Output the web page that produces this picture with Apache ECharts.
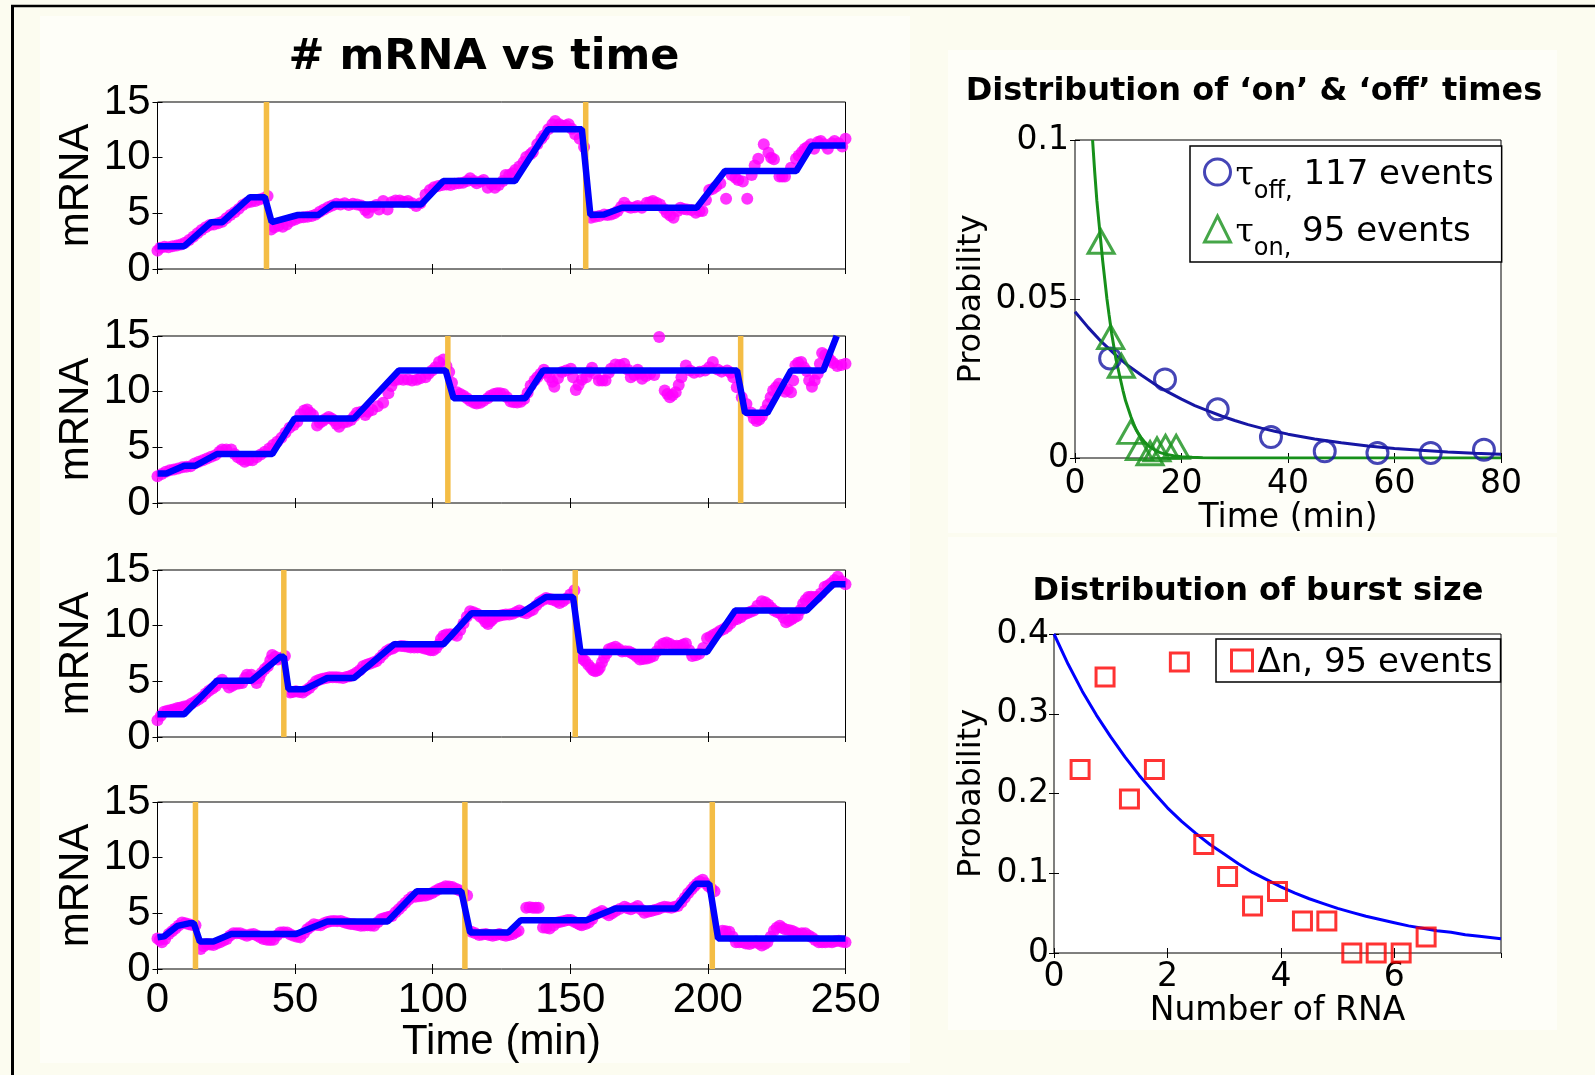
<!DOCTYPE html>
<html><head><meta charset="utf-8">
<script src="https://cdn.jsdelivr.net/npm/echarts/dist/echarts.min.js"></script>
<style>html,body{margin:0;padding:0;background:#fcfcf0;}#c{width:1595px;height:1075px;}</style>
</head><body><div id="c"></div>
<script>
// ---------------- data ----------------
const TIME_TICKS = [0, 50, 100, 150, 200, 250];
const MRNA_TICKS = [0, 5, 10, 15];
const DIST_TIME_TICKS = [0, 20, 40, 60, 80];
const DIST_PROB_TICKS = [0, 0.05, 0.1];
const RNA_TICKS = [0, 2, 4, 6];
const RNA_MAX = 7.88;
const BURST_PROB_TICKS = [0, 0.1, 0.2, 0.3, 0.4];

// panel 1
const p1Switch = [39.6, 155.6];
const p1Fit = [[0,2.05],[9.7,2.05],[19.5,4.2],[23.5,4.2],[33.6,6.45],[39,6.45],[41.5,4.2],[51,4.85],[58.4,4.85],[63.8,5.8],[95.8,5.8],[103.9,7.9],[129.9,7.9],[142,12.55],[154.2,12.55],[157.3,4.85],[162.3,4.9],[168.8,5.5],[195.9,5.5],[206.2,8.8],[232.1,8.8],[237.8,11.1],[250,11.1]];
const p1Dots = [[0,1.65],[1,1.9],[2.5,2.0],[4,1.95],[5.5,2.05],[7,2.1],[8.5,2.2],[10,2.35],[11.5,2.6],[13,2.9],[14.5,3.2],[16,3.5],[17.5,3.75],[19,3.95],[20.5,4.0],[22,4.1],[23.5,4.25],[25,4.55],[26.5,4.85],[28,5.1],[29.5,5.4],[31,5.75],[32.5,5.95],[34,6.05],[35.5,6.1],[37,6.25],[38.5,6.35],[40,6.55],[41.3,3.55],[42.5,3.75],[44,3.9],[45.5,3.8],[47,4.0],[48.5,4.3],[50,4.45],[51.5,4.6],[53,4.65],[54.5,4.7],[56,4.75],[57.5,4.9],[59,5.15],[60.5,5.35],[62,5.55],[63.5,5.7],[65,5.85],[66.5,5.8],[68,5.9],[69.5,5.75],[71,5.85],[72.5,5.8],[74,5.7],[75.5,5.3],[76.5,5.05],[78,5.6],[79.5,5.75],[80.5,5.35],[82,6.1],[83.6,5.35],[85,6.0],[86.5,6.15],[88,6.15],[89.5,6.05],[91,6.1],[92.5,5.9],[94,5.65],[95.5,5.9],[97.4,6.7],[99,7.1],[100.5,7.35],[102,7.45],[103.5,7.55],[105,7.6],[106.5,7.55],[108,7.65],[109.5,7.7],[111,7.75],[112.5,7.9],[113.6,8.15],[115,7.9],[116,7.7],[117.5,7.85],[118.5,8.0],[120,7.3],[121.5,7.6],[122.6,7.3],[124,7.55],[125.5,7.9],[126.5,8.45],[127.8,8.45],[129,8.6],[130,8.9],[131.5,9.2],[133,9.6],[134,10.05],[135.5,10.3],[136.4,10.5],[138,11.2],[139.5,11.7],[140.4,12.0],[142,12.55],[143.5,13.0],[144.5,13.3],[146,13.0],[147,12.85],[148.3,12.9],[149.4,13.0],[150.5,12.6],[151.8,12.1],[153.4,11.7],[155,10.95],[157.5,4.6],[159,4.7],[160.5,4.75],[162.3,4.9],[163.5,4.85],[164.8,4.9],[166,5.0],[167.2,5.2],[168.5,5.6],[169.6,5.95],[171,5.6],[172,5.5],[173.5,5.55],[174.5,5.65],[176,5.5],[177.8,5.95],[179,6.0],[180,6.1],[181.3,5.95],[182.6,5.8],[184,5.4],[185,5.05],[186.3,4.8],[187.5,4.6],[189,5.2],[190,5.5],[191.2,5.4],[192.4,5.35],[194,5.3],[195.6,5.05],[197,5.2],[198,5.2],[199.3,6.2],[200.5,7.1],[201.8,7.2],[203,7.4],[204.5,7.7],[206.6,6.3],[208.6,8.45],[210,8.2],[211,8.0],[212.7,7.85],[214.3,6.3],[215.9,8.45],[217,9.3],[218.3,9.9],[220.3,11.2],[222,10.45],[223,10.0],[224,9.85],[226,8.3],[227,8.3],[228,8.3],[230.2,9.1],[232,9.9],[233,10.2],[234.2,10.5],[235.2,10.8],[236.2,10.95],[237.4,11.2],[238.6,10.8],[240,11.4],[241,11.5],[242.3,11.2],[243.6,10.8],[245,11.3],[246,11.5],[247.5,11.3],[248.8,11.0],[250,11.7]];

// panel 2
const p2Switch = [105.5, 211.9];
const p2Fit = [[0,2.65],[3.2,2.65],[9.7,3.35],[13.8,3.35],[21.6,4.4],[41.7,4.4],[49.8,7.6],[71.4,7.6],[87.7,11.9],[104.7,11.9],[107.6,9.4],[133.6,9.4],[140.1,11.9],[210.6,11.9],[213.5,8.1],[221.6,8.1],[230.2,11.9],[241.9,11.9],[246.8,15]];
const p2Dots = [[0,2.4],[1.5,2.6],[3,2.8],[4.5,2.95],[6,3.0],[7.5,3.1],[9,3.2],[10.5,3.25],[12,3.3],[13.5,3.55],[15,3.7],[16.5,3.85],[18,4.0],[19.5,4.15],[21,4.3],[22.5,4.6],[23.5,4.8],[25,4.8],[26.8,4.8],[28,4.4],[29.2,4.1],[30.5,3.9],[31.7,3.7],[33,3.85],[34.5,3.85],[36,4.1],[37.5,4.35],[39,4.6],[40.6,4.9],[42,5.2],[43.5,5.5],[45,5.85],[46.5,6.3],[48,6.75],[49.5,7.0],[50.8,7.3],[52,7.97],[53.3,8.3],[54.4,8.4],[55.5,8.1],[56.5,7.9],[58,6.97],[59,7.2],[60,7.36],[61,7.55],[62.2,7.73],[63.2,7.6],[64.1,7.4],[65,7.1],[66,6.85],[67.5,7.2],[69,7.3],[70.3,7.45],[71.5,7.8],[72.5,8.1],[74,8.2],[75.5,7.9],[76.5,8.2],[78,8.36],[80,8.7],[82,9.0],[83.9,9.85],[85,10.5],[86,11.0],[87.5,11.1],[89.3,11.06],[91,11.1],[92.5,11.0],[94.2,11.06],[95.5,11.2],[97.4,11.3],[98.5,11.6],[99.8,11.9],[101,12.2],[102.3,12.67],[103.9,12.88],[105,12.3],[106,11.76],[107,10.8],[108.8,9.94],[110,9.8],[111.2,9.64],[112.5,9.4],[113.6,9.18],[115,9.0],[116,8.94],[117.3,9.0],[118.5,9.18],[120,9.4],[121,9.64],[122.3,9.8],[123.4,9.85],[124.5,9.85],[125.8,9.8],[127,9.5],[128.3,9.12],[129.5,9.05],[130.7,9.03],[132,9.1],[133.2,9.33],[134.5,9.9],[135.6,10.55],[137,11.0],[138,11.3],[139.2,11.6],[140.4,11.97],[141.5,11.7],[142.5,11.3],[143.5,10.9],[144.2,10.45],[145.5,11.2],[147,11.76],[148.5,11.9],[150.2,12.06],[151,11.3],[152,10.15],[153,10.6],[154.2,11.06],[155.8,11.3],[157,11.8],[157.9,12.15],[159,11.6],[160.4,11.0],[161.6,11.0],[162.8,11.0],[164,11.7],[164.8,12.06],[166.4,12.45],[168,12.4],[169.6,12.5],[170.8,12.0],[172,11.3],[173.3,11.5],[174.5,11.97],[175.3,11.6],[176.1,11.15],[177.5,11.4],[179,11.6],[180.5,11.5],[182.3,14.9],[184.3,10.1],[185.3,9.8],[186.2,9.5],[187.2,9.7],[188.3,9.94],[189.4,10.6],[190.4,11.3],[192,12.36],[193.5,11.9],[195,11.7],[197,11.8],[199,11.9],[200.5,12.2],[201.8,12.67],[203.5,12.0],[205,11.8],[207,11.9],[208.3,11.7],[209.2,11.3],[210.5,10.4],[212.3,9.5],[214,8.9],[215.6,8.12],[216.7,7.6],[217.7,7.36],[218.7,7.5],[219.6,7.8],[220.8,8.3],[221.8,8.88],[222.8,9.5],[223.7,10.1],[224.8,10.4],[225.8,10.7],[227,10.3],[228,10.0],[229,10.2],[230.2,9.94],[231,11.0],[231.8,12.36],[232.8,12.6],[233.9,12.67],[234.9,12.2],[235.9,11.85],[236.8,11.0],[237.8,10.45],[238.8,11.0],[239.9,11.6],[240.7,12.5],[241.5,13.48],[242.6,13.3],[243.7,13.12],[244.6,12.8],[245.6,12.58],[247,12.3],[248.5,12.4],[250,12.5]];

// panel 3
const p3Switch = [45.9, 151.8];
const p3Fit = [[0,2.05],[9.7,2.05],[21.6,5.05],[34.1,5.05],[44.6,7.2],[45.9,7.2],[47.6,4.3],[53.6,4.3],[61.7,5.3],[71.4,5.3],[86,8.33],[103.9,8.33],[114.1,11.12],[132,11.12],[141.2,12.58],[151,12.58],[153.7,7.64],[199.7,7.64],[209.9,11.36],[235.9,11.36],[245.6,13.73],[250,13.73]];
const p3Dots = [[0,1.5],[1.2,1.9],[2.4,2.27],[3.6,2.35],[4.9,2.42],[6,2.5],[7.3,2.6],[8.5,2.65],[9.7,2.73],[11,2.8],[12.4,3.0],[13.8,3.2],[15,3.4],[16.2,3.6],[17.5,3.9],[18.7,4.15],[20,4.35],[21.1,4.55],[22.3,4.9],[23.5,5.15],[24.8,4.8],[26,4.45],[27.2,4.6],[28.4,4.76],[29.6,4.8],[30.8,4.85],[31.8,5.3],[32.5,5.6],[34.1,5.6],[35,5.2],[36,4.85],[37,5.3],[37.8,5.76],[39,6.1],[40.1,6.36],[41,6.9],[41.7,7.36],[42.8,7.2],[43.8,6.97],[45,7.1],[46.3,7.27],[48.2,4.0],[49.2,4.05],[50.3,4.1],[51.5,4.05],[52.8,4.0],[54,4.2],[55.2,4.4],[56.4,4.7],[57.6,5.0],[58.8,5.15],[60,5.24],[61.3,5.3],[62.5,5.36],[63.7,5.36],[64.9,5.36],[66,5.35],[67.4,5.3],[68.6,5.4],[69.8,5.45],[71,5.6],[72.2,5.76],[73.5,6.0],[74.7,6.36],[76,6.5],[77.1,6.58],[78.3,6.7],[79.5,6.8],[80.8,7.1],[82,7.4],[83.2,7.7],[84.4,7.88],[85.5,7.95],[86.5,8.1],[88.5,8.18],[89.7,8.15],[90.9,8.1],[92,8.05],[93.3,8.03],[94.5,8.05],[95.8,8.03],[97,7.95],[98.2,7.88],[99.2,7.8],[100.2,7.79],[101.3,8.0],[102.3,8.33],[103,8.8],[103.9,9.1],[105,9.2],[106.3,9.24],[107.5,9.2],[108.8,9.1],[110,9.6],[111.2,10.2],[112.4,10.8],[113.6,11.3],[114.8,11.2],[116.1,11.06],[117.3,10.8],[118.5,10.6],[119.3,10.3],[120.1,10.15],[121,10.4],[121.8,10.6],[123,10.8],[124.2,10.9],[125.4,10.95],[126.6,11.0],[127.8,11.0],[129.1,11.06],[130.3,11.2],[131.5,11.36],[132.7,11.2],[134,11.12],[135.2,11.3],[136.4,11.42],[137.6,11.8],[138.8,12.12],[140,12.3],[141.2,12.48],[142.5,12.4],[143.7,12.33],[145,12.2],[146.1,12.03],[147.3,12.2],[148.5,12.42],[150,12.8],[151.5,13.18],[153.7,7.27],[154.5,7.0],[155.4,6.82],[156.5,6.5],[157.5,6.21],[158.3,6.0],[159.1,5.9],[160,6.0],[160.7,6.21],[161.5,6.7],[162.3,7.12],[163.2,7.5],[164,7.88],[165.2,8.0],[166.4,8.1],[167.6,7.9],[168.8,7.67],[170,7.7],[171.3,7.67],[172.3,7.55],[173.2,7.42],[174.2,7.2],[175.3,6.97],[176.5,7.0],[177.8,7.06],[179,7.15],[180.2,7.27],[181.4,7.7],[182.6,8.18],[183.8,8.4],[185,8.48],[186.2,8.35],[187.5,8.18],[188.7,8.2],[189.9,8.18],[191,8.3],[192,8.4],[193.2,7.8],[194.3,7.27],[195.6,7.35],[196.9,7.48],[198.3,8.0],[199.7,8.88],[200.9,9.0],[202.1,9.18],[203.3,9.35],[204.5,9.55],[205.8,9.7],[207,9.9],[208.2,10.2],[209.4,10.5],[210.6,10.6],[211.9,10.76],[213.1,11.0],[214.3,11.12],[215.5,11.25],[216.7,11.36],[218,11.8],[219.6,12.2],[220.8,12.1],[221.9,11.9],[223,11.6],[224,11.36],[225.3,11.2],[226.5,11.06],[227.5,10.7],[228.4,10.3],[229.5,10.45],[230.5,10.6],[231.5,10.75],[232.6,10.9],[233.6,11.4],[234.6,11.97],[235.5,12.3],[236.5,12.58],[237.5,12.6],[238.6,12.58],[239.8,12.6],[241,12.9],[242.4,13.48],[243.6,13.6],[244.8,13.8],[246,14.1],[247.2,14.4],[248.6,14.0],[250,13.73]];

// panel 4
const p4Switch = [13.8, 111.7, 201.6];
const p4Fit = [[0,2.84],[2.4,2.93],[7.3,3.88],[11.4,4.1],[13.2,4.1],[15.4,2.46],[20.3,2.46],[26.8,3.14],[50.3,3.14],[61.7,4.26],[83.6,4.26],[94.2,6.98],[110.4,6.98],[113.6,3.28],[127.4,3.28],[132,4.38],[155.8,4.38],[166.4,5.44],[188.3,5.44],[195.6,7.66],[200.5,7.66],[203.7,2.75],[250,2.75]];
const p4Dots = [[0,2.75],[0.8,2.6],[1.6,2.4],[2.8,2.7],[4.1,3.14],[5.3,3.4],[6.5,3.64],[7.7,3.9],[8.9,4.17],[10.1,4.1],[11.4,4.02],[12.6,3.95],[13.8,3.93],[15.7,1.8],[16.8,2.05],[17.9,2.25],[19.1,2.2],[20.3,2.16],[21.5,2.3],[22.7,2.4],[24,2.55],[25.2,2.69],[26.4,3.0],[27.6,3.22],[28.8,3.2],[30,3.22],[31.3,3.1],[32.5,2.99],[33.7,3.1],[34.9,3.14],[36.1,3.0],[37.3,2.84],[38.5,2.7],[39.8,2.63],[41,2.6],[42.2,2.63],[43.4,3.0],[44.6,3.28],[45.8,3.3],[47.1,3.28],[48.3,3.1],[49.5,2.99],[50.7,2.9],[51.9,2.84],[53.2,3.2],[54.4,3.58],[55.6,3.8],[56.8,4.02],[58,3.95],[59.3,3.93],[60.5,4.1],[61.7,4.23],[62.9,4.3],[64.1,4.32],[65.3,4.3],[66.6,4.32],[67.8,4.2],[69,4.11],[70.2,4.05],[71.4,4.02],[72.6,3.95],[73.9,3.88],[75.1,3.9],[76.3,3.93],[77.5,3.9],[78.7,3.88],[80,4.2],[81.2,4.47],[82.3,4.55],[83.3,4.62],[84.3,4.7],[85.2,4.76],[86.5,5.1],[87.7,5.36],[88.9,5.65],[90.1,5.95],[91.3,6.25],[92.5,6.48],[93.7,6.5],[95,6.54],[96.2,6.57],[97.4,6.6],[98.6,6.7],[99.8,6.83],[101,7.0],[102.3,7.19],[103.5,7.3],[104.7,7.43],[105.9,7.4],[107.1,7.37],[108.4,7.2],[109.6,7.07],[111,6.9],[112.5,6.6],[114.1,3.34],[115.5,3.2],[116.9,3.05],[118,3.1],[119.3,3.14],[120.5,3.05],[121.8,2.99],[123,3.05],[124.2,3.14],[125.4,3.05],[126.6,2.99],[127.8,3.05],[129.1,3.14],[130.2,3.3],[131.2,3.43],[134,5.5],[135.2,5.55],[136.4,5.5],[137.5,5.5],[138.5,5.5],[140.1,3.73],[141.3,3.7],[142.5,3.64],[143.9,3.9],[145.3,4.17],[146.5,4.25],[147.7,4.32],[149,4.4],[150.2,4.41],[151.4,4.25],[152.6,4.11],[153.4,4.0],[154.2,3.93],[155.5,4.05],[156.7,4.17],[158,4.5],[159.1,4.91],[160.3,5.05],[161.5,5.21],[162.8,5.0],[164,4.82],[165.2,5.0],[166.4,5.21],[168,5.4],[169.7,5.59],[170.8,5.45],[172,5.36],[173.3,5.5],[174.5,5.65],[175.7,5.35],[176.9,5.06],[178.2,5.15],[179.4,5.21],[180.6,5.3],[181.8,5.36],[183,5.5],[184.2,5.59],[185.5,5.55],[186.7,5.5],[187.9,5.6],[189.1,5.65],[190.4,6.0],[191.6,6.39],[192.8,6.8],[194,7.13],[195,7.4],[196,7.66],[197,7.85],[198.1,8.02],[199.1,7.7],[200.2,7.43],[201.3,7.2],[202.4,6.98],[205.3,3.43],[206.5,3.4],[207.8,3.34],[209,2.9],[210.2,2.4],[211.4,2.4],[212.6,2.4],[213.8,2.3],[215.1,2.25],[216.3,2.35],[217.5,2.46],[218.5,2.3],[219.6,2.1],[220.6,2.25],[221.6,2.4],[222.8,2.9],[224,3.43],[225,3.7],[226.1,3.88],[227,3.7],[228,3.58],[229.3,3.5],[230.5,3.43],[231.7,3.3],[232.9,3.14],[234.1,3.2],[235.4,3.22],[236.6,3.0],[237.8,2.84],[239,2.6],[240.3,2.4],[241.5,2.4],[242.7,2.4],[243.9,2.45],[245.1,2.4],[246.3,2.5],[247.6,2.54],[248.8,2.45],[250,2.4]];

// on / off time distributions
const offPoints = [[6.6,0.0313],[16.9,0.0247],[26.8,0.0153],[36.8,0.0066],[46.9,0.0021],[56.8,0.0016],[66.8,0.0016],[76.8,0.0026]];
const onPoints = [[4.9,0.068],[6.7,0.038],[8.7,0.029],[10.5,0.0082],[12.1,0.0031],[14.1,0.0015],[15.4,0.0027],[17.0,0.0035],[19.0,0.0035]];
const offFit = [[0,0.046],[2.5,0.041],[5,0.0365],[7.5,0.0326],[10,0.029],[12.5,0.026],[15,0.0232],[17.5,0.0207],[20,0.0185],[22.5,0.0165],[25,0.0148],[27.5,0.0132],[30,0.0118],[32.5,0.0105],[35,0.0094],[37.5,0.0084],[40,0.0075],[45,0.006],[50,0.0048],[55,0.0038],[60,0.003],[65,0.0024],[70,0.0019],[75,0.0015],[80,0.0012]];
const onFit = [[3.3,0.1],[3.7,0.09],[4.1,0.081],[4.5,0.074],[4.85,0.068],[5.2,0.062],[5.6,0.056],[6.0,0.05],[6.4,0.045],[6.9,0.039],[7.3,0.035],[7.7,0.031],[8.1,0.028],[8.5,0.025],[9.0,0.0213],[9.5,0.018],[10,0.0155],[10.5,0.013],[11,0.0108],[11.5,0.0088],[12,0.0074],[12.5,0.0062],[13,0.0052],[13.5,0.0043],[14,0.0036],[15,0.0025],[16,0.0017],[17,0.0012],[18.5,0.0007],[20,0.0004],[22,0.0002],[24,0.0001],[27,0],[80,0]];
const offLegend = ['off,', '117 events'];
const onLegend = ['on,', '95 events'];

// burst size distribution
const burstPoints = [[0.46,0.230],[0.9,0.346],[1.33,0.193],[1.77,0.230],[2.21,0.365],[2.64,0.136],[3.06,0.096],[3.5,0.059],[3.94,0.077],[4.38,0.040],[4.81,0.040],[5.25,0],[5.68,0],[6.12,0],[6.56,0.020]];
const burstFit = [[0,0.4],[0.25,0.362],[0.5,0.328],[0.75,0.298],[1,0.271],[1.25,0.246],[1.5,0.223],[1.75,0.202],[2,0.182],[2.25,0.165],[2.5,0.150],[2.75,0.136],[3,0.124],[3.25,0.112],[3.5,0.101],[3.75,0.092],[4,0.083],[4.25,0.075],[4.5,0.068],[4.75,0.062],[5,0.056],[5.25,0.051],[5.5,0.046],[5.75,0.042],[6,0.038],[6.25,0.034],[6.5,0.031],[6.75,0.028],[7,0.026],[7.25,0.023],[7.5,0.021],[7.88,0.018]];
const burstLegend = 'Δn, 95 events';

// ---------------- chart ----------------
const NAVY = '#1616a4', GREEN = '#16901a', ORANGE = '#f4bd45';
const LEFT_TOPS = [102, 336, 570, 802];
const panels = [
  {dots: p1Dots, fit: p1Fit, sw: p1Switch},
  {dots: p2Dots, fit: p2Fit, sw: p2Switch},
  {dots: p3Dots, fit: p3Fit, sw: p3Switch},
  {dots: p4Dots, fit: p4Fit, sw: p4Switch}
];
const grid = [], xAxis = [], yAxis = [], series = [];
const tick = {inside: true, length: 5, lineStyle: {color: '#000', width: 1}};
function axisPair(arr, gi, o, posA, posB, extraA) {
  const base = {gridIndex: gi, type: 'value', min: o.min, max: o.max, interval: o.interval,
    axisLine: {show: false}, splitLine: {show: false}, axisTick: tick};
  arr.push(Object.assign({}, base, {position: posA}, extraA));
  arr.push(Object.assign({}, base, {position: posB, axisLabel: {show: false}}));
}
const LS = 'Liberation Sans, Arial, sans-serif';
const DV = 'DejaVu Sans, Verdana, sans-serif';

panels.forEach((p, i) => {
  grid.push({left: 157.5, top: LEFT_TOPS[i], width: 688, height: 167, show: true,
    backgroundColor: '#ffffff', borderColor: '#000', borderWidth: 1});
  const last = i === 3;
  axisPair(xAxis, i, {min: TIME_TICKS[0], max: TIME_TICKS[TIME_TICKS.length-1], interval: TIME_TICKS[1]-TIME_TICKS[0]}, 'bottom', 'top', {
    axisLabel: {show: last, fontSize: 42, fontFamily: LS, color: '#000', margin: 10},
    name: last ? 'Time (min)' : '', nameLocation: 'middle', nameGap: 52,
    nameTextStyle: {fontSize: 42, fontFamily: LS, color: '#000'}
  });
  axisPair(yAxis, i, {min: MRNA_TICKS[0], max: MRNA_TICKS[MRNA_TICKS.length-1], interval: MRNA_TICKS[1]-MRNA_TICKS[0]}, 'left', 'right', {
    axisLabel: {fontSize: 42, fontFamily: LS, color: '#000', margin: 7},
    name: 'mRNA', nameLocation: 'middle', nameGap: 60, nameRotate: 90,
    nameTextStyle: {fontSize: 42, fontFamily: LS, color: '#000'}
  });
  const xi = 2 * i;
  series.push({type: 'scatter', xAxisIndex: xi, yAxisIndex: xi, data: p.dots, symbol: 'circle', symbolSize: 12,
    itemStyle: {color: '#ff00ff'}, z: 2, silent: true});
  p.sw.forEach(t => series.push({type: 'line', xAxisIndex: xi, yAxisIndex: xi,
    data: [[t, MRNA_TICKS[0]], [t, MRNA_TICKS[MRNA_TICKS.length-1]]], symbol: 'none',
    lineStyle: {color: ORANGE, width: 5.5}, z: 3, silent: true}));
  series.push({type: 'line', xAxisIndex: xi, yAxisIndex: xi, data: p.fit, symbol: 'none',
    lineStyle: {color: '#0000ff', width: 6.5}, z: 4, silent: true});
});

// right top: on/off times
grid.push({left: 1075, top: 140, width: 426, height: 318, show: true, backgroundColor: '#ffffff', borderColor: '#000', borderWidth: 1});
axisPair(xAxis, 4, {min: DIST_TIME_TICKS[0], max: DIST_TIME_TICKS[DIST_TIME_TICKS.length-1], interval: DIST_TIME_TICKS[1]-DIST_TIME_TICKS[0]}, 'bottom', 'top', {
  axisLabel: {fontSize: 33, fontFamily: DV, color: '#000', margin: 10},
  name: 'Time (min)', nameLocation: 'middle', nameGap: 44, nameTextStyle: {fontSize: 33, fontFamily: DV, color: '#000'}
});
axisPair(yAxis, 4, {min: DIST_PROB_TICKS[0], max: DIST_PROB_TICKS[DIST_PROB_TICKS.length-1], interval: DIST_PROB_TICKS[1]-DIST_PROB_TICKS[0]}, 'left', 'right', {
  axisLabel: {fontSize: 33, fontFamily: DV, color: '#000', margin: 6},
  name: 'Probability', nameLocation: 'middle', nameGap: 87, nameRotate: 90, nameTextStyle: {fontSize: 32, fontFamily: DV, color: '#000'}
});
series.push({name: 'offFit', type: 'line', xAxisIndex: 8, yAxisIndex: 8, data: offFit, symbol: 'none',
  lineStyle: {color: NAVY, width: 3}, z: 3, silent: true});
series.push({name: 'onFit', type: 'line', xAxisIndex: 8, yAxisIndex: 8, data: onFit, symbol: 'none',
  lineStyle: {color: GREEN, width: 3}, z: 3, silent: true});
series.push({name: 'off', type: 'scatter', xAxisIndex: 8, yAxisIndex: 8, data: offPoints, symbol: 'circle', symbolSize: 21,
  itemStyle: {color: 'rgba(0,0,0,0)', borderColor: NAVY, borderWidth: 3}, z: 4, silent: true});
series.push({name: 'on', type: 'scatter', xAxisIndex: 8, yAxisIndex: 8, data: onPoints, symbol: 'triangle', symbolSize: [26, 23],
  itemStyle: {color: 'rgba(0,0,0,0)', borderColor: GREEN, borderWidth: 3}, z: 4, silent: true});

// right bottom: burst size
grid.push({left: 1054, top: 634, width: 447, height: 319, show: true, backgroundColor: '#ffffff', borderColor: '#000', borderWidth: 1});
axisPair(xAxis, 5, {min: RNA_TICKS[0], max: RNA_MAX, interval: RNA_TICKS[1]-RNA_TICKS[0]}, 'bottom', 'top', {
  axisLabel: {fontSize: 33, fontFamily: DV, color: '#000', margin: 8, showMaxLabel: false},
  name: 'Number of RNA', nameLocation: 'middle', nameGap: 42, nameTextStyle: {fontSize: 33, fontFamily: DV, color: '#000'}
});
axisPair(yAxis, 5, {min: BURST_PROB_TICKS[0], max: BURST_PROB_TICKS[BURST_PROB_TICKS.length-1], interval: BURST_PROB_TICKS[1]-BURST_PROB_TICKS[0]}, 'left', 'right', {
  axisLabel: {fontSize: 33, fontFamily: DV, color: '#000', margin: 5},
  name: 'Probability', nameLocation: 'middle', nameGap: 66, nameRotate: 90, nameTextStyle: {fontSize: 32, fontFamily: DV, color: '#000'}
});
series.push({name: 'burstFit', type: 'line', xAxisIndex: 10, yAxisIndex: 10, data: burstFit, symbol: 'none',
  lineStyle: {color: '#0000ff', width: 3}, z: 3, silent: true});
series.push({name: 'burst', type: 'scatter', xAxisIndex: 10, yAxisIndex: 10, data: burstPoints, symbol: 'rect', symbolSize: 18,
  itemStyle: {color: 'rgba(0,0,0,0)', borderColor: '#ff0000', borderWidth: 3}, z: 4, silent: true});

const richLeg = {
  t: {fontFamily: 'DejaVu Serif, serif', fontSize: 33, lineHeight: 49, padding: [0, 0, 4, 0], verticalAlign: 'bottom', color: '#000'},
  s: {fontFamily: DV, fontSize: 24, lineHeight: 24, padding: [32, 0, 0, 0], verticalAlign: 'top', color: '#000'},
  m: {fontFamily: DV, fontSize: 34, lineHeight: 49, padding: [0, 0, 4, 0], verticalAlign: 'bottom', color: '#000'}
};

const option = {
  animation: false,
  backgroundColor: '#fcfcf0',
  title: [
    {text: '# mRNA vs time', left: 484, top: 36, textAlign: 'center', padding: 0,
      textStyle: {fontFamily: DV, fontWeight: 'bold', fontSize: 43, color: '#000'}},
    {text: 'Distribution of \u2018on\u2019 & \u2018off\u2019 times', left: 1254, top: 76, textAlign: 'center', padding: 0,
      textStyle: {fontFamily: DV, fontWeight: 'bold', fontSize: 32, color: '#000'}},
    {text: 'Distribution of burst size', left: 1258, top: 576, textAlign: 'center', padding: 0,
      textStyle: {fontFamily: DV, fontWeight: 'bold', fontSize: 32, color: '#000'}}
  ],
  legend: [
    {left: 1190, top: 146, orient: 'vertical', padding: [1.5, 8, 1.5, 13], itemGap: 1, itemWidth: 26, itemHeight: 26,
      borderColor: '#000', borderWidth: 1.5, backgroundColor: '#fff', selectedMode: false,
      data: [
        {name: 'off', icon: 'circle', itemStyle: {color: 'rgba(0,0,0,0)', borderColor: NAVY, borderWidth: 3}},
        {name: 'on', icon: 'triangle', itemStyle: {color: 'rgba(0,0,0,0)', borderColor: GREEN, borderWidth: 3}}
      ],
      formatter: n => n === 'off' ? '{t|\u03c4}{s|' + offLegend[0] + '}{m| ' + offLegend[1] + '}' : '{t|\u03c4}{s|' + onLegend[0] + '}{m| ' + onLegend[1] + '}',
      textStyle: {rich: richLeg, color: '#000', fontSize: 34}},
    {left: 1216, top: 639, orient: 'vertical', padding: [1.5, 8, 1.5, 14], itemWidth: 21, itemHeight: 21,
      borderColor: '#000', borderWidth: 1.5, backgroundColor: '#fff', selectedMode: false,
      data: [{name: 'burst', icon: 'rect', itemStyle: {color: 'rgba(0,0,0,0)', borderColor: '#ff0000', borderWidth: 3}}],
      formatter: () => '{m|' + burstLegend + '}',
      textStyle: {rich: {m: {fontFamily: DV, fontSize: 34, lineHeight: 38, padding: [6, 0, 0, 0], color: '#000'}}, color: '#000', fontSize: 34}}
  ],
  graphic: [
    {type: 'rect', shape: {x: 40, y: 16, width: 870, height: 1047}, style: {fill: '#fefef8'}, z: -10, silent: true},
    {type: 'rect', shape: {x: 948, y: 50, width: 609, height: 483}, style: {fill: '#fefef8'}, z: -10, silent: true},
    {type: 'rect', shape: {x: 948, y: 537, width: 609, height: 493}, style: {fill: '#fefef8'}, z: -10, silent: true},
    {type: 'line', shape: {x1: 12.5, y1: 6, x2: 12.5, y2: 1075}, style: {stroke: '#000', lineWidth: 3}, z: 10, silent: true},
    {type: 'line', shape: {x1: 11, y1: 6, x2: 1595, y2: 6}, style: {stroke: '#000', lineWidth: 2.5}, z: 10, silent: true}
  ],
  grid, xAxis, yAxis, series
};
const chart = echarts.init(document.getElementById('c'), null, {renderer: 'canvas'});
chart.setOption(option);
</script></body></html>
